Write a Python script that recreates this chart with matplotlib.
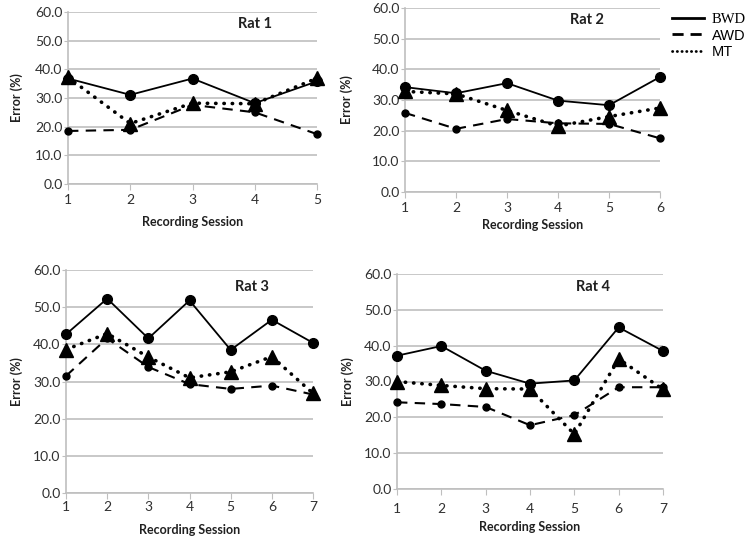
import matplotlib.pyplot as plt
from matplotlib.lines import Line2D

# values (Error %, per recording session)
rat1_bwd = [36.8, 31.1, 36.8, 28.2, 35.8]
rat1_awd = [18.5, 18.9, 27.6, 25.0, 17.4]
rat1_mt = [37.2, 21.1, 28.2, 28.0, 36.9]

rat2_bwd = [34.2, 32.2, 35.5, 29.8, 28.3, 37.5]
rat2_awd = [25.8, 20.6, 23.8, 22.4, 22.2, 17.5]
rat2_mt = [32.8, 32.0, 26.6, 21.5, 24.6, 27.4]

rat3_bwd = [42.7, 52.3, 41.6, 51.8, 38.5, 46.6, 40.4]
rat3_awd = [31.5, 41.6, 33.9, 29.3, 28.0, 28.9, 26.5]
rat3_mt = [38.6, 42.9, 36.6, 31.0, 32.6, 36.7, 26.8]

rat4_bwd = [37.2, 39.9, 33.0, 29.4, 30.3, 45.1, 38.5]
rat4_awd = [24.2, 23.7, 22.9, 17.8, 20.6, 28.4, 28.4]
rat4_mt = [30.0, 28.9, 28.0, 27.9, 15.3, 36.3, 27.8]

titles = ["Rat 1", "Rat 2", "Rat 3", "Rat 4"]
series = [
    (rat1_bwd, rat1_awd, rat1_mt),
    (rat2_bwd, rat2_awd, rat2_mt),
    (rat3_bwd, rat3_awd, rat3_mt),
    (rat4_bwd, rat4_awd, rat4_mt),
]

W, H = 745, 543
# axes boxes in pixels: left, right, top, bottom
boxes = [
    (68, 317, 12, 184),
    (405, 660, 8, 192),
    (66, 313, 270, 493),
    (397, 663, 274, 489),
]
# title position (px), x-label y (px), y-label x (px), xtick pad
title_pos = [(255, 24), (587, 20), (252, 287), (593, 287)]
xlabel_y = [222, 225, 530, 527]
ylabel_x = [17, 347, 17, 348]
xpad = [3, 3, 2, 6]

GRID = "#bfbfbf"
TXT = "#303030"
FONT = ["Lato", "DejaVu Sans"]

fig = plt.figure(figsize=(W / 100, H / 100), dpi=100)

for k, (bwd, awd, mt) in enumerate(series):
    l, r, t, b = boxes[k]
    ax = fig.add_axes([l / W, 1 - b / H, (r - l) / W, (b - t) / H])
    x = list(range(1, len(bwd) + 1))

    ax.plot(x, bwd, color="black", lw=1.3, ls="-", marker="o", ms=7, zorder=3,
            clip_on=False)
    ax.plot(x, awd, color="black", lw=1.5, ls=(0, (5, 3.5)), marker="o", ms=5,
            zorder=4, clip_on=False)
    ax.plot(x, mt, color="black", lw=2.6, ls=(0, (0.1, 2.2)),
            dash_capstyle="round", marker="^", ms=10, zorder=5, clip_on=False)

    ax.set_xlim(1, len(bwd))
    ax.set_ylim(0, 60)
    ax.set_yticks(range(0, 61, 10))
    ax.set_yticklabels([f"{v:.1f}" for v in range(0, 61, 10)])
    ax.set_xticks(x)
    ax.grid(axis="y", color=GRID, lw=1.2)
    ax.set_axisbelow(True)
    for s in ["top", "right"]:
        ax.spines[s].set_visible(False)
    for s in ["left", "bottom"]:
        ax.spines[s].set_color(GRID)
        ax.spines[s].set_linewidth(1.2)
    ax.tick_params(axis="x", length=4, color=GRID, pad=xpad[k], labelsize=10,
                   labelcolor=TXT)
    ax.tick_params(axis="y", length=3, color=GRID, pad=1, labelsize=10,
                   labelcolor=TXT)
    for lab in ax.get_xticklabels() + ax.get_yticklabels():
        lab.set_fontfamily(FONT)

    fig.text(title_pos[k][0] / W, 1 - title_pos[k][1] / H, titles[k],
             ha="center", va="center", fontsize=10.5, fontweight="bold",
             family=FONT, color="#202020")
    fig.text((l + r) / 2 / W, 1 - xlabel_y[k] / H, "Recording Session",
             ha="center", va="center", fontsize=9, fontweight="bold",
             family=FONT, color="#202020")
    fig.text(ylabel_x[k] / W, 1 - ((t + b) / 2) / H, "Error (%)", rotation=90,
             ha="center", va="center", fontsize=9, fontweight="bold",
             family=FONT, color="#202020")

handles = [
    Line2D([], [], color="black", lw=2, ls="-"),
    Line2D([], [], color="black", lw=2, ls=(0, (4, 2.5))),
    Line2D([], [], color="black", lw=2, ls=(0, (0.1, 1.6)), dash_capstyle="round"),
]
leg = fig.legend(handles, ["BWD", "AWD", "MT"], loc="upper left",
                 bbox_to_anchor=(662 / W, 1 - 3 / H), frameon=False,
                 fontsize=10.5, handlelength=2.2, handletextpad=0.5,
                 labelspacing=0.15, borderpad=0.2)
texts = leg.get_texts()
texts[0].set_fontfamily("Liberation Serif")
texts[1].set_fontfamily("Liberation Sans")
texts[2].set_fontfamily("Liberation Sans")

fig.savefig("out.png", dpi=100)
